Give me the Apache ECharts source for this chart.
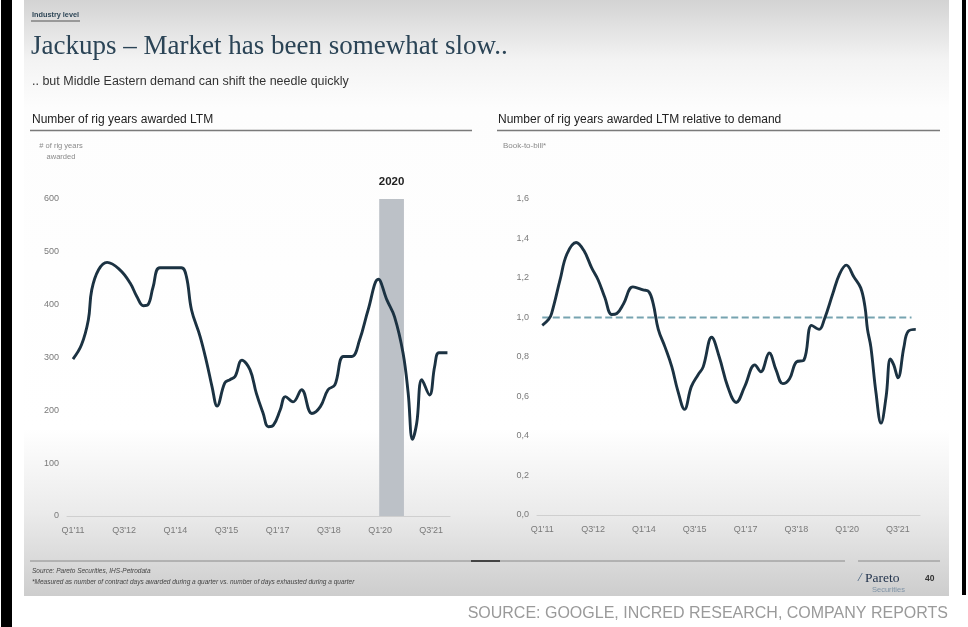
<!DOCTYPE html>
<html>
<head>
<meta charset="utf-8">
<script src="https://cdn.jsdelivr.net/npm/echarts@6/dist/echarts.min.js"></script>
<style>
  html, body { margin: 0; padding: 0; background: #ffffff; }
  #chart { width: 968px; height: 627px; }
</style>
</head>
<body>
<div id="chart"></div>
<script>
// Quarter index 0 = Q1'11; axis labels every six quarters
const tickQuarters = [0, 6, 12, 18, 24, 30, 36, 42];
const tickLabels = ["Q1'11", "Q3'12", "Q1'14", "Q3'15", "Q1'17", "Q3'18", "Q1'20", "Q3'21"];

// Number of rig years awarded, last twelve months  [quarter index, rig years]
const rigYearsAwarded = [
  [0, 297], [1.0, 324], [1.8, 371], [2.2, 428], [3.0, 466], [4.0, 480],
  [5.5, 466], [6.7, 441], [7.5, 415], [8.25, 398], [8.8, 400], [9.4, 434],
  [10.2, 470], [12.7, 470], [13.3, 453], [13.9, 390], [14.9, 340], [15.7, 289],
  [16.3, 245], [16.9, 208], [17.8, 252], [18.4, 258], [19.0, 264], [19.8, 295],
  [20.75, 277], [21.5, 232], [22.3, 194], [22.9, 169], [23.5, 172], [24.3, 201],
  [24.9, 226], [25.8, 216], [26.8, 239], [28.0, 194], [29.0, 207], [29.9, 239],
  [30.7, 248], [31.7, 302], [32.7, 302], [33.6, 333], [34.6, 390], [35.8, 448],
  [36.8, 409], [37.7, 377], [38.7, 308], [39.3, 232], [39.8, 145], [40.3, 176],
  [40.9, 258], [41.8, 229], [42.4, 283], [42.9, 309], [43.9, 309]
];

// Book-to-bill: rig years awarded LTM relative to demand  [quarter index, ratio]
const bookToBill = [
  [0, 0.96], [0.75, 0.99], [1.1, 1.02], [2.1, 1.19], [2.9, 1.32], [4.0, 1.38],
  [4.9, 1.34], [5.85, 1.25], [6.6, 1.19], [7.4, 1.10], [8.2, 1.015], [8.8, 1.02],
  [9.6, 1.07], [10.7, 1.155], [11.9, 1.14], [12.6, 1.13], [13.1, 1.07], [13.7, 0.94],
  [14.5, 0.85], [15.3, 0.75], [16.0, 0.63], [16.8, 0.535], [17.6, 0.65], [18.4, 0.71],
  [19.0, 0.75], [20.0, 0.90], [20.9, 0.80], [21.9, 0.65], [22.9, 0.57], [23.9, 0.65],
  [25.1, 0.76], [25.8, 0.725], [26.8, 0.82], [27.6, 0.735], [28.4, 0.665], [29.2, 0.69],
  [30.0, 0.775], [30.9, 0.785], [31.8, 0.96], [32.7, 0.94], [33.3, 0.99], [34.3, 1.12],
  [35.1, 1.22], [35.9, 1.265], [36.8, 1.205], [37.6, 1.15], [38.1, 1.055], [38.4, 0.94],
  [38.8, 0.85], [39.4, 0.62], [40.0, 0.465], [40.6, 0.60], [41.1, 0.79], [41.5, 0.76],
  [42.0, 0.695], [42.7, 0.85], [43.2, 0.93], [44.1, 0.94]
];

// Book-to-bill of 1.0 (awards equal to demand)
const parityLine = [[0, 1.0], [43.6, 1.0]];

// Highlighted year on the left panel
const highlightSpan = [35.9, 38.8];
const highlightLabel = '2020';

const SANS = "'Liberation Sans', Arial, sans-serif";
const SERIF = "'Liberation Serif', 'Times New Roman', serif";
const LINE = '#1b3242';

function quarterLabel(v) {
  const i = tickQuarters.indexOf(Math.round(v));
  return i >= 0 ? tickLabels[i] : '';
}

const xAxisBase = {
  type: 'value',
  axisLine: { show: true, lineStyle: { color: '#cfcfcf', width: 1 } },
  axisTick: { show: false },
  splitLine: { show: false },
  axisLabel: {
    customValues: tickQuarters,
    formatter: quarterLabel,
    color: '#7a7a7a', fontSize: 9, fontFamily: SANS, margin: 10
  }
};

const yAxisBase = {
  type: 'value',
  axisLine: { show: false },
  axisTick: { show: false },
  splitLine: { show: false },
  axisLabel: { color: '#7a7a7a', fontSize: 9, fontFamily: SANS, margin: 8 }
};

function txt(text, x, y, opts) {
  return {
    type: 'text', silent: true, z: 10,
    style: Object.assign({
      text: text, x: x, y: y,
      fontFamily: SANS, fontSize: 12, fill: '#333',
      textAlign: 'left', textVerticalAlign: 'middle'
    }, opts || {})
  };
}
function hline(x1, x2, y, color, width) {
  return {
    type: 'line', silent: true, z: 5,
    shape: { x1: x1, y1: y, x2: x2, y2: y },
    style: { stroke: color, lineWidth: width }
  };
}

const chart = echarts.init(document.getElementById('chart'), null, { renderer: 'canvas' });

chart.setOption({
  animation: false,
  backgroundColor: '#ffffff',
  graphic: [
    // slide background
    {
      type: 'rect', silent: true, z: -100,
      shape: { x: 24, y: 0, width: 925, height: 596 },
      style: {
        fill: new echarts.graphic.LinearGradient(0, 0, 0, 1, [
          { offset: 0, color: '#d3d3d3' },
          { offset: 0.1, color: '#f3f3f3' },
          { offset: 0.18, color: '#fdfdfd' },
          { offset: 0.72, color: '#ffffff' },
          { offset: 0.86, color: '#ebebeb' },
          { offset: 1, color: '#cdcdcd' }
        ])
      }
    },
    // frame bars
    { type: 'rect', silent: true, z: -90, shape: { x: 1, y: 0, width: 11, height: 627 }, style: { fill: '#000' } },
    { type: 'rect', silent: true, z: -90, shape: { x: 962, y: 0, width: 4, height: 595 }, style: { fill: '#000' } },

    // heading
    txt('Industry level', 32, 14.5, { fontSize: 7.3, fontWeight: 'bold', fill: '#2e4657' }),
    hline(31, 80, 21, '#555', 1),
    txt('Jackups \u2013 Market has been somewhat slow..', 31, 46.5, { fontFamily: SERIF, fontSize: 27, fill: '#2b4456' }),
    txt('.. but Middle Eastern demand can shift the needle quickly', 32, 81.5, { fontSize: 12.5, fill: '#333' }),

    // panel titles
    txt('Number of rig years awarded LTM', 32, 119.5, { fontSize: 12, fill: '#222' }),
    hline(30, 472, 130.5, '#7a7a7a', 1.3),
    txt('Number of rig years awarded LTM relative to demand', 498, 119.5, { fontSize: 12, fill: '#222' }),
    hline(497, 940, 130.5, '#7a7a7a', 1.3),

    // axis captions
    txt('# of rig years', 61, 146, { fontSize: 7.5, fill: '#8a8a8a', textAlign: 'center' }),
    txt('awarded', 61, 157, { fontSize: 7.5, fill: '#8a8a8a', textAlign: 'center' }),
    txt('Book-to-bill*', 503, 145.5, { fontSize: 8, fill: '#8a8a8a' }),

    // footer rules
    hline(30, 471, 561, '#8a8a8a', 1),
    hline(471, 500, 561, '#444', 2),
    hline(500, 845, 561, '#8a8a8a', 1),
    hline(858, 940, 561, '#8a8a8a', 1),

    // footer notes
    txt('Source: Pareto Securities, IHS-Petrodata', 32, 571, { fontSize: 6.5, fontStyle: 'italic', fill: '#444' }),
    txt('*Measured as number of contract days awarded during a quarter vs. number of days exhausted during a quarter', 32, 582, { fontSize: 6.5, fontStyle: 'italic', fill: '#444' }),
    txt('/', 858, 578, { fontFamily: SERIF, fontSize: 13, fontStyle: 'italic', fill: '#3d5a7a' }),
    txt('Pareto', 865, 578, { fontFamily: SERIF, fontSize: 13.5, fill: '#23344d' }),
    txt('Securities', 872, 590, { fontSize: 7.5, fill: '#7f93a6' }),
    txt('40', 925, 578.5, { fontSize: 8.5, fontWeight: 'bold', fill: '#333' }),

    // attribution below the slide
    txt('SOURCE: GOOGLE, INCRED RESEARCH, COMPANY REPORTS', 948, 614, { fontSize: 16, fill: '#9a9a9a', textAlign: 'right' })
  ],
  grid: [
    { left: 67, top: 199, width: 383, height: 317 },
    { left: 537, top: 199, width: 383, height: 316 }
  ],
  xAxis: [
    Object.assign({}, xAxisBase, { gridIndex: 0, min: -0.7, max: 44.2 }),
    Object.assign({}, xAxisBase, { gridIndex: 1, min: -0.62, max: 44.6 })
  ],
  yAxis: [
    Object.assign({}, yAxisBase, { gridIndex: 0, min: 0, max: 600, interval: 100 }),
    Object.assign({}, yAxisBase, {
      gridIndex: 1, min: 0, max: 1.6, interval: 0.2,
      axisLabel: Object.assign({}, yAxisBase.axisLabel, {
        formatter: v => v.toFixed(1).replace('.', ',')
      })
    })
  ],
  series: [
    {
      name: 'Rig years awarded LTM',
      type: 'line',
      xAxisIndex: 0, yAxisIndex: 0,
      data: rigYearsAwarded,
      smooth: 0.4,
      showSymbol: false,
      lineStyle: { color: LINE, width: 2.9 },
      markArea: {
        silent: true,
        itemStyle: { color: '#bcc1c7' },
        label: {
          show: true, position: 'top', distance: 11,
          formatter: highlightLabel,
          fontFamily: SANS, fontSize: 11.5, fontWeight: 'bold', color: '#222'
        },
        data: [[{ xAxis: highlightSpan[0], yAxis: 0 }, { xAxis: highlightSpan[1], yAxis: 600 }]]
      }
    },
    {
      name: 'Parity',
      type: 'line',
      xAxisIndex: 1, yAxisIndex: 1,
      data: parityLine,
      showSymbol: false,
      lineStyle: { color: '#76a3b0', width: 2, type: [7, 3.5] }
    },
    {
      name: 'Book-to-bill',
      type: 'line',
      xAxisIndex: 1, yAxisIndex: 1,
      data: bookToBill,
      smooth: 0.4,
      showSymbol: false,
      lineStyle: { color: LINE, width: 2.9 }
    }
  ]
});
</script>
</body>
</html>
